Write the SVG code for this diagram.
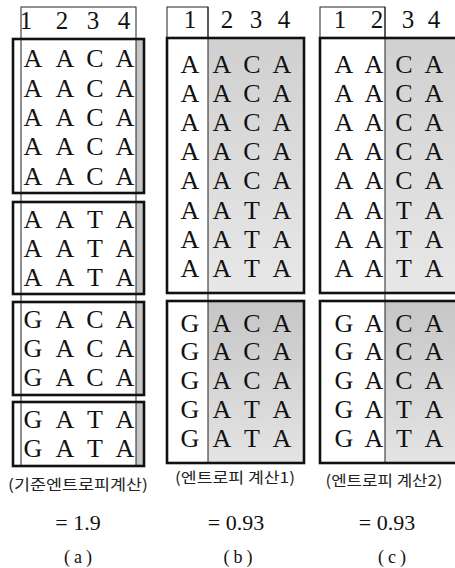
<svg xmlns="http://www.w3.org/2000/svg" width="455" height="568" viewBox="0 0 455 568">
<defs>
<linearGradient id="g1" x1="0" y1="0" x2="0" y2="1"><stop offset="0" stop-color="#d0d0d0"/><stop offset="1" stop-color="#e8e8e8"/></linearGradient>
<linearGradient id="g2" x1="0" y1="0" x2="0" y2="1"><stop offset="0" stop-color="#c6c6c6"/><stop offset="1" stop-color="#e4e4e4"/></linearGradient>
<style>
.thick{fill:none;stroke:#111;stroke-width:2.6}
.thin{fill:none;stroke:#222;stroke-width:1}
.strip{fill:#c6c6c6}
.s{font-family:"Liberation Serif","Times New Roman",serif;font-size:26px;fill:#111;text-anchor:middle}
.h{font-family:"Liberation Serif","Times New Roman",serif;font-size:25px;fill:#111;text-anchor:middle}
.k{font-family:"Noto Sans CJK KR","Noto Sans",sans-serif;font-size:15px;fill:#222;text-anchor:middle}
.v{font-family:"Liberation Serif",serif;font-size:22px;fill:#111;text-anchor:middle}
.p{font-family:"Liberation Serif",serif;font-size:18px;fill:#111;text-anchor:middle;letter-spacing:4px}
</style>
</defs>

<g id="panel-a">
<rect class="strip" x="136" y="39" width="7" height="154"/>
<rect class="strip" x="136" y="202" width="7" height="92"/>
<rect class="strip" x="136" y="302" width="7" height="93"/>
<rect class="strip" x="136" y="402" width="7" height="64"/>
<rect class="thin" x="21" y="7" width="115" height="459"/>
<rect class="thick" x="13" y="39" width="131" height="154"/>
<rect class="thick" x="13" y="202" width="131" height="92"/>
<rect class="thick" x="13" y="302" width="131" height="93"/>
<rect class="thick" x="13" y="402" width="131" height="64"/>
<text class="h" y="29"><tspan x="26">1</tspan><tspan x="62">2</tspan><tspan x="93">3</tspan><tspan x="124">4</tspan></text>
<g class="s">
<text y="67"><tspan x="33">A</tspan><tspan x="65">A</tspan><tspan x="95">C</tspan><tspan x="125">A</tspan></text>
<text y="97"><tspan x="33">A</tspan><tspan x="65">A</tspan><tspan x="95">C</tspan><tspan x="125">A</tspan></text>
<text y="126"><tspan x="33">A</tspan><tspan x="65">A</tspan><tspan x="95">C</tspan><tspan x="125">A</tspan></text>
<text y="155"><tspan x="33">A</tspan><tspan x="65">A</tspan><tspan x="95">C</tspan><tspan x="125">A</tspan></text>
<text y="185"><tspan x="33">A</tspan><tspan x="65">A</tspan><tspan x="95">C</tspan><tspan x="125">A</tspan></text>
<text y="228"><tspan x="33">A</tspan><tspan x="65">A</tspan><tspan x="95">T</tspan><tspan x="125">A</tspan></text>
<text y="257"><tspan x="33">A</tspan><tspan x="65">A</tspan><tspan x="95">T</tspan><tspan x="125">A</tspan></text>
<text y="286"><tspan x="33">A</tspan><tspan x="65">A</tspan><tspan x="95">T</tspan><tspan x="125">A</tspan></text>
<text y="328"><tspan x="33">G</tspan><tspan x="65">A</tspan><tspan x="95">C</tspan><tspan x="125">A</tspan></text>
<text y="357"><tspan x="33">G</tspan><tspan x="65">A</tspan><tspan x="95">C</tspan><tspan x="125">A</tspan></text>
<text y="386"><tspan x="33">G</tspan><tspan x="65">A</tspan><tspan x="95">C</tspan><tspan x="125">A</tspan></text>
<text y="428"><tspan x="33">G</tspan><tspan x="65">A</tspan><tspan x="95">T</tspan><tspan x="125">A</tspan></text>
<text y="457"><tspan x="33">G</tspan><tspan x="65">A</tspan><tspan x="95">T</tspan><tspan x="125">A</tspan></text>
</g>
<text class="k" x="78" y="490" textLength="140" lengthAdjust="spacingAndGlyphs">(기준엔트로피계산)</text>
<text class="v" x="78" y="530">= 1.9</text>
<text class="p" x="80" y="563">(a)</text>
</g>

<g id="panel-b">
<rect fill="url(#g1)" x="208" y="38" width="96" height="255"/>
<rect fill="url(#g2)" x="208" y="301" width="96" height="162"/>
<rect class="thin" x="167" y="7" width="41" height="31"/>
<line class="thin" x1="208" y1="7" x2="208" y2="463"/>
<rect class="thick" x="167" y="38" width="137" height="255"/>
<rect class="thick" x="167" y="301" width="137" height="162"/>
<text class="h" y="28"><tspan x="190">1</tspan><tspan x="227">2</tspan><tspan x="256">3</tspan><tspan x="284">4</tspan></text>
<g class="s">
<text y="73"><tspan x="190">A</tspan><tspan x="222">A</tspan><tspan x="252">C</tspan><tspan x="282">A</tspan></text>
<text y="102"><tspan x="190">A</tspan><tspan x="222">A</tspan><tspan x="252">C</tspan><tspan x="282">A</tspan></text>
<text y="131"><tspan x="190">A</tspan><tspan x="222">A</tspan><tspan x="252">C</tspan><tspan x="282">A</tspan></text>
<text y="160"><tspan x="190">A</tspan><tspan x="222">A</tspan><tspan x="252">C</tspan><tspan x="282">A</tspan></text>
<text y="189"><tspan x="190">A</tspan><tspan x="222">A</tspan><tspan x="252">C</tspan><tspan x="282">A</tspan></text>
<text y="219"><tspan x="190">A</tspan><tspan x="222">A</tspan><tspan x="252">T</tspan><tspan x="282">A</tspan></text>
<text y="248"><tspan x="190">A</tspan><tspan x="222">A</tspan><tspan x="252">T</tspan><tspan x="282">A</tspan></text>
<text y="277"><tspan x="190">A</tspan><tspan x="222">A</tspan><tspan x="252">T</tspan><tspan x="282">A</tspan></text>
<text y="332"><tspan x="190">G</tspan><tspan x="222">A</tspan><tspan x="252">C</tspan><tspan x="282">A</tspan></text>
<text y="360"><tspan x="190">G</tspan><tspan x="222">A</tspan><tspan x="252">C</tspan><tspan x="282">A</tspan></text>
<text y="389"><tspan x="190">G</tspan><tspan x="222">A</tspan><tspan x="252">C</tspan><tspan x="282">A</tspan></text>
<text y="418"><tspan x="190">G</tspan><tspan x="222">A</tspan><tspan x="252">T</tspan><tspan x="282">A</tspan></text>
<text y="447"><tspan x="190">G</tspan><tspan x="222">A</tspan><tspan x="252">T</tspan><tspan x="282">A</tspan></text>
</g>
<text class="k" x="235" y="483" textLength="120" lengthAdjust="spacingAndGlyphs">(엔트로피 계산1)</text>
<text class="v" x="236" y="530">= 0.93</text>
<text class="p" x="240" y="563">(b)</text>
</g>

<g id="panel-c">
<rect fill="url(#g1)" x="385" y="38" width="75" height="255"/>
<rect fill="url(#g2)" x="385" y="301" width="75" height="162"/>
<rect class="thin" x="320" y="7" width="65" height="31"/>
<line class="thin" x1="385" y1="7" x2="385" y2="463"/>
<rect class="thick" x="320" y="38" width="140" height="255"/>
<rect class="thick" x="320" y="301" width="140" height="162"/>
<text class="h" y="28"><tspan x="340">1</tspan><tspan x="377">2</tspan><tspan x="408">3</tspan><tspan x="434">4</tspan></text>
<g class="s">
<text y="73"><tspan x="344">A</tspan><tspan x="374">A</tspan><tspan x="404">C</tspan><tspan x="434">A</tspan></text>
<text y="102"><tspan x="344">A</tspan><tspan x="374">A</tspan><tspan x="404">C</tspan><tspan x="434">A</tspan></text>
<text y="131"><tspan x="344">A</tspan><tspan x="374">A</tspan><tspan x="404">C</tspan><tspan x="434">A</tspan></text>
<text y="160"><tspan x="344">A</tspan><tspan x="374">A</tspan><tspan x="404">C</tspan><tspan x="434">A</tspan></text>
<text y="189"><tspan x="344">A</tspan><tspan x="374">A</tspan><tspan x="404">C</tspan><tspan x="434">A</tspan></text>
<text y="219"><tspan x="344">A</tspan><tspan x="374">A</tspan><tspan x="404">T</tspan><tspan x="434">A</tspan></text>
<text y="248"><tspan x="344">A</tspan><tspan x="374">A</tspan><tspan x="404">T</tspan><tspan x="434">A</tspan></text>
<text y="277"><tspan x="344">A</tspan><tspan x="374">A</tspan><tspan x="404">T</tspan><tspan x="434">A</tspan></text>
<text y="332"><tspan x="344">G</tspan><tspan x="374">A</tspan><tspan x="404">C</tspan><tspan x="434">A</tspan></text>
<text y="360"><tspan x="344">G</tspan><tspan x="374">A</tspan><tspan x="404">C</tspan><tspan x="434">A</tspan></text>
<text y="389"><tspan x="344">G</tspan><tspan x="374">A</tspan><tspan x="404">C</tspan><tspan x="434">A</tspan></text>
<text y="418"><tspan x="344">G</tspan><tspan x="374">A</tspan><tspan x="404">T</tspan><tspan x="434">A</tspan></text>
<text y="447"><tspan x="344">G</tspan><tspan x="374">A</tspan><tspan x="404">T</tspan><tspan x="434">A</tspan></text>
</g>
<text class="k" x="384" y="486" textLength="117" lengthAdjust="spacingAndGlyphs">(엔트로피 계산2)</text>
<text class="v" x="387" y="530">= 0.93</text>
<text class="p" x="394" y="563">(c)</text>
</g>
</svg>
